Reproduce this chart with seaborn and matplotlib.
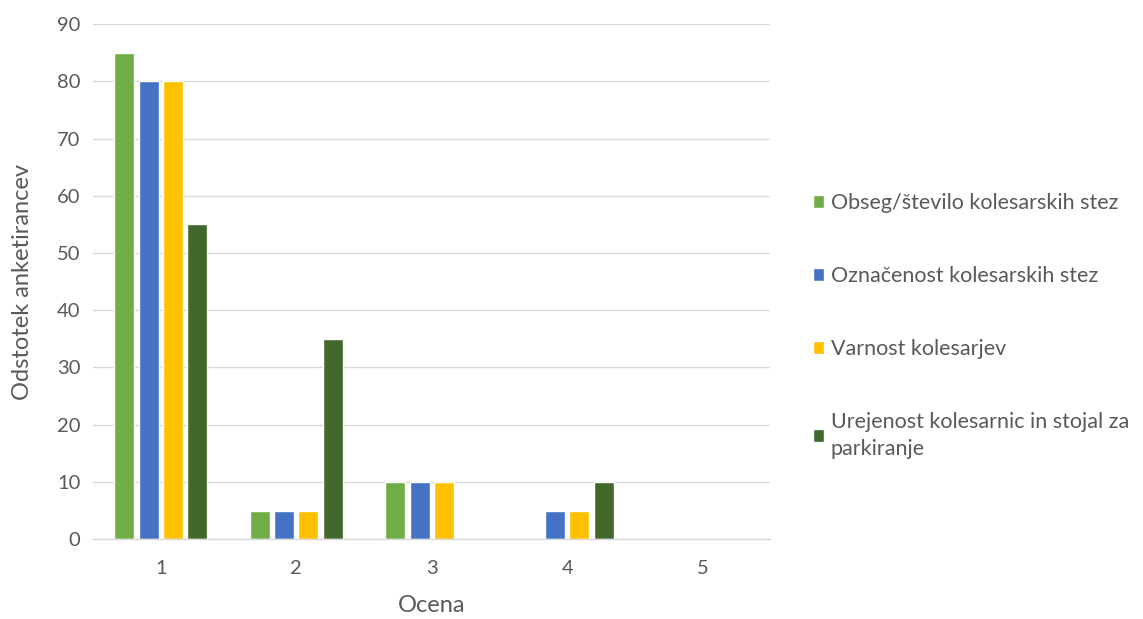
import numpy as np
import pandas as pd
import matplotlib
matplotlib.use("Agg")
import matplotlib.pyplot as plt
import seaborn as sns

# Survey ratings (1-5) and share of respondents per aspect, in percent
ocene = ["1", "2", "3", "4", "5"]
obseg = [85, 5, 10, 0, 0]
oznacenost = [80, 5, 10, 5, 0]
varnost = [80, 5, 10, 5, 0]
urejenost = [55, 35, 0, 10, 0]

serije = [
    "Obseg/število kolesarskih stez",
    "Označenost kolesarskih stez",
    "Varnost kolesarjev",
    "Urejenost kolesarnic in stojal za\nparkiranje",
]
barve = ["#70AD47", "#4472C4", "#FFC000", "#43682B"]

rows = []
for name, vals in zip(serije, [obseg, oznacenost, varnost, urejenost]):
    for o, v in zip(ocene, vals):
        rows.append({"Ocena": o, "Serija": name, "Odstotek": v})
df = pd.DataFrame(rows)

sns.set_theme(style="white")
plt.rcParams["font.family"] = ["Lato", "DejaVu Sans"]
text_col = "#595959"
grid_col = "#D9D9D9"

fig = plt.figure(figsize=(11.43, 6.19), dpi=100)
ax = fig.add_axes([0.0814, 0.129, 0.5926, 0.832])

sns.barplot(data=df, x="Ocena", y="Odstotek", hue="Serija", order=ocene,
            hue_order=serije, palette=barve, width=0.72, gap=0.18,
            errorbar=None, ax=ax, legend=True, saturation=1)

ax.set_ylim(0, 90)
ax.set_yticks(np.arange(0, 91, 10))
ax.set_xlim(-0.5, 4.5)
ax.yaxis.grid(True, color=grid_col, linewidth=1)
ax.set_axisbelow(True)
for s in ["top", "right", "left"]:
    ax.spines[s].set_visible(False)
ax.spines["bottom"].set_color(grid_col)
ax.spines["bottom"].set_linewidth(1)
ax.tick_params(axis="both", length=0, labelsize=14.5, colors=text_col)
ax.tick_params(axis="x", pad=15)
ax.tick_params(axis="y", pad=9)
ax.set_xlabel("Ocena", fontsize=17, color=text_col, labelpad=13)
ax.set_ylabel("Odstotek anketirancev", fontsize=17, color=text_col, labelpad=17)

handles, labels = ax.get_legend_handles_labels()
ax.get_legend().remove()
leg = fig.legend(handles, labels, loc="center left", bbox_to_anchor=(0.694, 0.473),
                 frameon=False, fontsize=15.5, labelcolor=text_col,
                 handlelength=0.55, handleheight=0.55, handletextpad=0.3,
                 labelspacing=2.45)
leg.get_texts()[3].set_linespacing(1.45)

fig.savefig("out.png", dpi=100)
